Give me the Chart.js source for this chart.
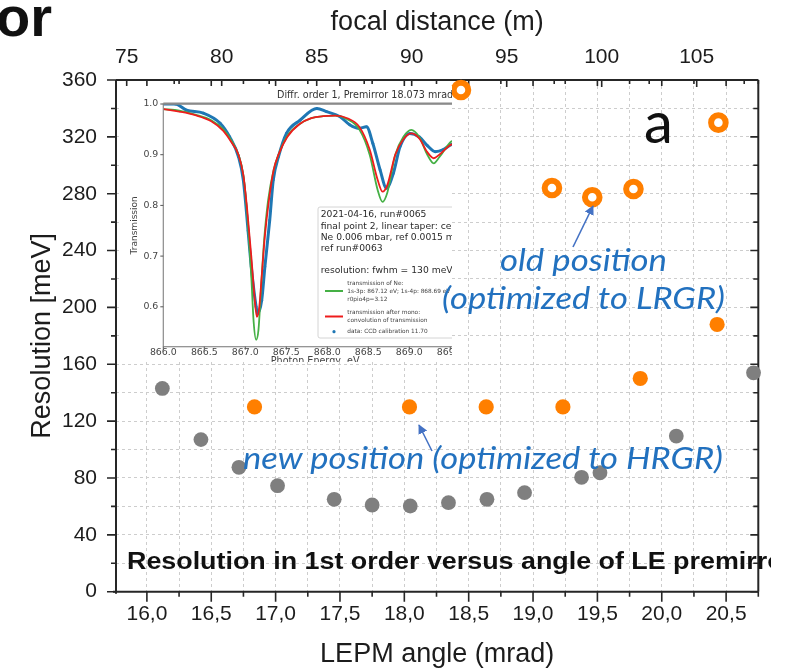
<!DOCTYPE html>
<html>
<head>
<meta charset="utf-8">
<script src="https://cdn.jsdelivr.net/npm/chart.js@4.4.1/dist/chart.umd.min.js"></script>
<style>
  html, body { margin: 0; padding: 0; background: #fff; }
  #wrap { position: relative; width: 787px; height: 671px; overflow: hidden; background: #fff; }
  #main { position: absolute; left: 0; top: 0; }
  #insetBox { position: absolute; left: 120px; top: 86px; width: 332px; height: 276px; overflow: hidden; background: #fff; }
  #inset { position: absolute; left: 0; top: 0; }
  #notes { position: absolute; left: 0; top: 0; pointer-events: none; }
  .note { font-family: Lato, "Open Sans", sans-serif; font-style: italic; fill: #2271bf; font-size: 31px; }
</style>
</head>
<body>
<div id="wrap">
  <canvas id="main" width="787" height="671"></canvas>
  <div id="insetBox"><canvas id="inset" width="360" height="300"></canvas></div>
  <svg id="notes" width="787" height="671" viewBox="0 0 787 671">
    <defs>
      <clipPath id="plotClip"><rect x="0" y="0" width="771" height="671"></rect></clipPath>
      <marker id="head" viewBox="0 0 10 10" refX="9" refY="5" markerWidth="6" markerHeight="6" orient="auto">
        <path d="M0,0 L10,5 L0,10 z" fill="#4472c4"></path>
      </marker>
    </defs>
    <text x="-4" y="36" font-family="Liberation Sans, Arial, sans-serif" font-weight="bold" font-size="56" fill="#111">or</text>
    <text x="644" y="143" font-family="Lato, sans-serif" font-size="58" fill="#111">a</text>
    <line x1="573" y1="247" x2="593" y2="206" stroke="#4472c4" stroke-width="1.6" marker-end="url(#head)"></line>
    <line x1="432" y1="451" x2="419" y2="425" stroke="#4472c4" stroke-width="1.6" marker-end="url(#head)"></line>
    <text class="note" x="500" y="271" textLength="167" lengthAdjust="spacingAndGlyphs">old position</text>
    <text class="note" x="442" y="309" textLength="283" lengthAdjust="spacingAndGlyphs">(optimized to LRGR)</text>
    <text class="note" x="243" y="469" textLength="480" lengthAdjust="spacingAndGlyphs">new position (optimized to HRGR)</text>
    <text x="127" y="569" clip-path="url(#plotClip)" font-family="Liberation Sans, Arial, sans-serif" font-weight="bold" font-size="23" fill="#111" textLength="667" lengthAdjust="spacingAndGlyphs">Resolution in 1st order versus angle of LE premirror</text>
  </svg>
</div>
<script>
// ---- resolution vs. premirror angle ----
const grayAngle = [16.12, 16.42, 16.715, 17.015, 17.455, 17.75, 18.046, 18.343, 18.642, 18.934, 19.377, 19.52, 20.113, 20.713];
const grayRes   = [143, 107, 87.5, 74.6, 65, 61, 60.3, 62.6, 65, 69.7, 80.5, 83.7, 109.5, 154];

const newAngle = [16.836, 18.04, 18.636, 19.232, 19.833, 20.43];
const newRes   = [130, 130, 130, 130, 150, 188];

const oldAngle = [18.44, 19.147, 19.46, 19.78, 20.44];
const oldRes   = [353, 284, 277.5, 283.3, 330];

// axis ticks
const angleGrid   = [16.0, 16.25, 16.5, 16.75, 17.0, 17.25, 17.5, 17.75, 18.0, 18.25, 18.5, 18.75, 19.0, 19.25, 19.5, 19.75, 20.0, 20.25, 20.5, 20.75];
const angleLabels = [16.0, 16.5, 17.0, 17.5, 18.0, 18.5, 19.0, 19.5, 20.0, 20.5];
const resGrid     = [0, 20, 40, 60, 80, 100, 120, 140, 160, 180, 200, 220, 240, 260, 280, 300, 320, 340, 360];
const resLabels   = [0, 40, 80, 120, 160, 200, 240, 280, 320, 360];
const focalLabels = [75, 80, 85, 90, 95, 100, 105];
const focalMinor  = [77.5, 82.5, 87.5, 92.5, 97.5, 102.5, 107.5];

// ---- inset: Ne 1s transmission spectrum ----
const dataEv = [866.0, 866.146, 866.283, 866.488, 866.693, 866.81, 866.917, 866.976, 867.034, 867.073, 867.132, 867.151, 867.2, 867.239, 867.298, 867.341, 867.405, 867.502, 867.668, 867.873, 867.99, 868.156, 868.273, 868.38, 868.478, 868.556, 868.644, 868.722, 868.805, 868.888, 869.005, 869.122, 869.22, 869.317, 869.415, 869.512, 869.6];
const dataT  = [1.0, 1.0, 0.988, 0.982, 0.962, 0.935, 0.896, 0.85, 0.75, 0.679, 0.6, 0.587, 0.613, 0.679, 0.771, 0.85, 0.896, 0.942, 0.968, 0.991, 0.985, 0.975, 0.959, 0.952, 0.955, 0.922, 0.87, 0.834, 0.863, 0.916, 0.942, 0.935, 0.918, 0.906, 0.91, 0.92, 0.924];

const neEv = [866.0, 866.195, 866.39, 866.585, 866.732, 866.829, 866.917, 866.976, 867.024, 867.073, 867.102, 867.132, 867.161, 867.19, 867.229, 867.278, 867.346, 867.405, 867.512, 867.659, 867.805, 867.951, 868.098, 868.244, 868.39, 868.517, 868.615, 868.673, 868.732, 868.829, 868.927, 869.024, 869.122, 869.22, 869.298, 869.366, 869.512, 869.6];
const neT  = [0.99, 0.987, 0.979, 0.968, 0.95, 0.928, 0.9, 0.86, 0.78, 0.66, 0.57, 0.535, 0.555, 0.63, 0.73, 0.81, 0.87, 0.9, 0.937, 0.96, 0.972, 0.976, 0.977, 0.97, 0.95, 0.9, 0.83, 0.807, 0.825, 0.9, 0.935, 0.949, 0.935, 0.9, 0.883, 0.895, 0.926, 0.93];

const monoEv = [866.0, 866.195, 866.39, 866.585, 866.732, 866.829, 866.917, 866.976, 867.024, 867.073, 867.112, 867.141, 867.171, 867.2, 867.239, 867.288, 867.346, 867.405, 867.512, 867.659, 867.805, 867.951, 868.098, 868.244, 868.39, 868.517, 868.615, 868.673, 868.732, 868.829, 868.927, 869.024, 869.122, 869.22, 869.298, 869.366, 869.512, 869.6];
const monoT  = [0.99, 0.985, 0.978, 0.966, 0.947, 0.925, 0.9, 0.86, 0.79, 0.70, 0.62, 0.58, 0.6, 0.66, 0.74, 0.81, 0.87, 0.9, 0.935, 0.96, 0.972, 0.976, 0.977, 0.972, 0.955, 0.91, 0.85, 0.827, 0.84, 0.9, 0.93, 0.942, 0.932, 0.905, 0.893, 0.9, 0.92, 0.922];

const evTicks = [866.0, 866.5, 867.0, 867.5, 868.0, 868.5, 869.0, 869.5];
const tTicks  = [0.6, 0.7, 0.8, 0.9, 1.0];

const pairs = (xs, ys) => xs.map((x, i) => ({ x: x, y: ys[i] }));
const inList = (list, v) => list.some(l => Math.abs(l - v) < 1e-6);
const setTicks = list => scale => { scale.ticks = list.map(v => ({ value: v })); };

const SANS = "'Liberation Sans', Arial, sans-serif";
const INK = '#1c1c1c';
const ORANGE = '#ff7f00';

// frame and tick marks of the main plot
const framePlugin = {
  id: 'frame',
  beforeDatasetsDraw(chart) {
    const { ctx, chartArea: a, scales } = chart;
    const x = scales.x, y = scales.y, x2 = scales.x2;
    ctx.save();
    ctx.strokeStyle = '#262626';
    ctx.lineWidth = 1.6;
    ctx.beginPath();
    angleGrid.forEach(v => {
      const px = x.getPixelForValue(v);
      const major = inList(angleLabels, v);
      ctx.moveTo(px, a.bottom); ctx.lineTo(px, a.bottom + (major ? 10 : 5));
      ctx.moveTo(px, a.top); ctx.lineTo(px, a.top + (major ? 6 : 4));
    });
    focalLabels.forEach(v => { const px = x2.getPixelForValue(v); ctx.moveTo(px, a.top); ctx.lineTo(px, a.top + 7); });
    focalMinor.forEach(v => { const px = x2.getPixelForValue(v); if (px < a.right) { ctx.moveTo(px, a.top); ctx.lineTo(px, a.top + 4); } });
    resGrid.forEach(v => {
      const py = y.getPixelForValue(v);
      const major = inList(resLabels, v);
      ctx.moveTo(a.left, py); ctx.lineTo(a.left - (major ? 9 : 5), py);
      ctx.moveTo(a.right, py); ctx.lineTo(a.right - (major ? 8 : 5), py);
    });
    ctx.stroke();
    ctx.lineWidth = 2;
    ctx.beginPath();
    ctx.moveTo(a.left - 3, a.bottom); ctx.lineTo(a.right, a.bottom);
    ctx.moveTo(a.left, a.top); ctx.lineTo(a.left, a.bottom + 2);
    ctx.moveTo(a.left, a.top); ctx.lineTo(a.right, a.top);
    ctx.moveTo(a.right, a.top); ctx.lineTo(a.right, a.bottom);
    ctx.stroke();
    ctx.restore();
  }
};

const gridStyle = { color: '#cdcdcd', lineWidth: 1, drawTicks: false };
const gridDash = { display: false, dash: [3, 3] };

new Chart(document.getElementById('main'), {
  type: 'scatter',
  data: {
    datasets: [
      { label: 'old position', data: pairs(oldAngle, oldRes), pointRadius: 7.3, borderWidth: 6, borderColor: ORANGE, backgroundColor: '#ffffff', clip: false },
      { label: 'new position', data: pairs(newAngle, newRes), pointRadius: 7.6, borderWidth: 0, backgroundColor: ORANGE, clip: false },
      { label: 'resolution', data: pairs(grayAngle, grayRes), pointRadius: 7.4, borderWidth: 0, backgroundColor: '#7f7f7f', clip: false }
    ]
  },
  options: {
    responsive: false, animation: false, devicePixelRatio: 1,
    layout: { padding: { left: 0, right: 28.7, top: 0, bottom: 0 } },
    plugins: { legend: { display: false }, tooltip: { enabled: false } },
    scales: {
      x: {
        type: 'linear', position: 'bottom', min: 15.76, max: 20.75,
        afterBuildTicks: setTicks(angleGrid),
        afterFit: s => { s.height = 79.3; },
        grid: gridStyle, border: gridDash,
        ticks: { autoSkip: false, maxRotation: 0, minRotation: 0, padding: 10, color: INK,
                 font: { family: SANS, size: 21 },
                 callback: v => inList(angleLabels, v) ? v.toFixed(1).replace('.', ',') : '' },
        title: { display: true, text: 'LEPM angle (mrad)', color: INK, font: { family: SANS, size: 27 }, padding: { top: 0, bottom: 0 } }
      },
      x2: {
        type: 'linear', position: 'top', min: 74.437, max: 108.242,
        afterBuildTicks: setTicks(focalLabels),
        afterFit: s => { s.height = 80; },
        grid: { display: false, drawTicks: false }, border: { display: false },
        ticks: { autoSkip: false, maxRotation: 0, padding: 10, color: INK, font: { family: SANS, size: 21 },
                 callback: v => String(v) },
        title: { display: true, text: 'focal distance (m)', color: INK, font: { family: SANS, size: 27 }, padding: { top: 6, bottom: 0 } }
      },
      y: {
        type: 'linear', position: 'left', min: 0, max: 360,
        afterBuildTicks: setTicks(resGrid),
        afterFit: s => { s.width = 116; },
        grid: gridStyle, border: gridDash,
        ticks: { autoSkip: false, padding: 19, color: INK, font: { family: SANS, size: 21 },
                 callback: v => inList(resLabels, v) ? String(v) : '' },
        title: { display: true, text: 'Resolution [meV]', color: INK, font: { family: SANS, size: 27 }, padding: { top: 26, bottom: 0 } }
      }
    }
  },
  plugins: [framePlugin]
});

// ---- inset chart ----
const DJ = "'DejaVu Sans', sans-serif";
const insetDecor = {
  id: 'insetDecor',
  afterDraw(chart) {
    const { ctx, chartArea: a, scales } = chart;
    ctx.save();
    // spines and ticks
    ctx.strokeStyle = '#8a8a8a';
    ctx.lineWidth = 1.2;
    ctx.strokeRect(a.left, a.top, a.right - a.left + 200, a.bottom - a.top);
    ctx.lineWidth = 2.2;
    ctx.beginPath(); ctx.moveTo(a.left, a.top - 0.5); ctx.lineTo(a.right + 200, a.top - 0.5); ctx.stroke();
    ctx.lineWidth = 1;
    ctx.strokeStyle = '#555';
    ctx.beginPath();
    evTicks.forEach(v => { const px = scales.x.getPixelForValue(v); ctx.moveTo(px, a.bottom); ctx.lineTo(px, a.bottom + 3); });
    tTicks.forEach(v => { const py = scales.y.getPixelForValue(v); ctx.moveTo(a.left, py); ctx.lineTo(a.left - 3, py); });
    ctx.stroke();
    // title
    ctx.fillStyle = '#333';
    ctx.font = '9.6px ' + DJ;
    ctx.textBaseline = 'middle';
    ctx.textAlign = 'left';
    ctx.fillText('Diffr. order 1, Premirror 18.073 mrad', 157, 9);
    // legend box
    const lx = 198, ly = 121, lw = 300, lh = 131;
    ctx.fillStyle = 'rgba(255,255,255,0.92)';
    ctx.strokeStyle = '#d4d4d4';
    ctx.lineWidth = 1;
    ctx.beginPath(); ctx.roundRect(lx, ly, lw, lh, 2); ctx.fill(); ctx.stroke();
    ctx.fillStyle = '#2a2a2a';
    ctx.font = '9.2px ' + DJ;
    const head = ['2021-04-16, run#0065', 'final point 2, linear taper: cell 10 mm', 'Ne 0.006 mbar, ref 0.0015 mbar', 'ref run#0063', '', 'resolution: fwhm = 130 meV'];
    head.forEach((t, i) => ctx.fillText(t, 200.7, 129 + i * 11.2));
    ctx.font = '5.8px ' + DJ;
    const ds = chart.data.datasets;
    const entry = (color, lines, y0, dot) => {
      if (dot) {
        ctx.fillStyle = color; ctx.beginPath(); ctx.arc(214, y0, 1.6, 0, Math.PI * 2); ctx.fill();
      } else {
        ctx.strokeStyle = color; ctx.lineWidth = 2; ctx.beginPath(); ctx.moveTo(205, y0); ctx.lineTo(223, y0); ctx.stroke();
      }
      ctx.fillStyle = '#444';
      lines.forEach((t, i) => ctx.fillText(t, 227.3, y0 - (lines.length - 1) * 4 + i * 8));
    };
    entry(ds[1].borderColor, ['transmission of Ne:', '1s-3p: 867.12 eV; 1s-4p: 868.69 eV', 'r0pio4p=3.12'], 205, false);
    entry(ds[0].borderColor, ['transmission after mono:', 'convolution of transmission'], 230.5, false);
    entry(ds[2].borderColor, ['data: CCD calibration 11.70'], 245.7, true);
    ctx.restore();
  }
};

new Chart(document.getElementById('inset'), {
  type: 'line',
  data: {
    datasets: [
      { label: 'transmission after mono', data: pairs(monoEv, monoT), borderColor: '#ee1c1c', borderWidth: 1.8, pointRadius: 0, cubicInterpolationMode: 'monotone' },
      { label: 'transmission of Ne', data: pairs(neEv, neT), borderColor: '#45b045', borderWidth: 1.8, pointRadius: 0, cubicInterpolationMode: 'monotone' },
      { label: 'data', data: pairs(dataEv, dataT), borderColor: '#1f77b4', borderWidth: 3, pointRadius: 1.4, pointBackgroundColor: '#1f77b4', pointBorderWidth: 0, cubicInterpolationMode: 'monotone' }
    ]
  },
  options: {
    responsive: false, animation: false, devicePixelRatio: 1,
    layout: { padding: { left: 0, right: 13, top: 18, bottom: 0 } },
    plugins: { legend: { display: false }, tooltip: { enabled: false } },
    scales: {
      x: {
        type: 'linear', min: 866.0, max: 869.704,
        afterBuildTicks: setTicks(evTicks),
        afterFit: s => { s.height = 39.3; },
        grid: { display: false, drawTicks: false }, border: { display: false },
        ticks: { autoSkip: false, maxRotation: 0, padding: 0, color: '#444', font: { family: DJ, size: 9.4 }, callback: v => v.toFixed(1) },
        title: { display: true, text: 'Photon Energy, eV', color: '#444', font: { family: DJ, size: 9.6 }, padding: { top: 0, bottom: 19 } }
      },
      y: {
        type: 'linear', min: 0.5213, max: 1.0,
        afterBuildTicks: setTicks(tTicks),
        afterFit: s => { s.width = 43.3; },
        grid: { display: false, drawTicks: false }, border: { display: false },
        ticks: { autoSkip: false, padding: 5, color: '#444', font: { family: DJ, size: 9.4 }, callback: v => v.toFixed(1) },
        title: { display: true, text: 'Transmission', color: '#444', font: { family: DJ, size: 9 }, padding: { top: 9.6, bottom: 0 } }
      }
    }
  },
  plugins: [insetDecor]
});
</script>
</body>
</html>
